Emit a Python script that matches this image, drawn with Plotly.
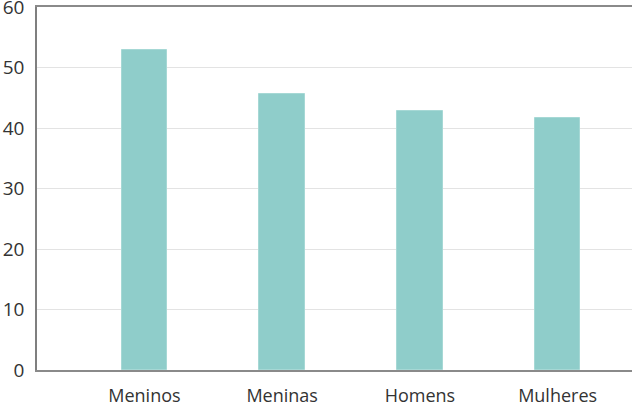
import plotly.graph_objects as go

categories = ["Meninos", "Meninas", "Homens", "Mulheres"]
values = [52.9, 45.7, 42.9, 41.7]
y_ticks = [0, 10, 20, 30, 40, 50, 60]

fig = go.Figure(go.Bar(
    x=list(range(len(categories))),
    y=values,
    width=0.33,
    marker=dict(color="#8fcdca", line=dict(color="#a6d8d5", width=1)),
    hoverinfo="skip",
))

fig.update_layout(
    width=632, height=405,
    margin=dict(l=37, r=0, t=7, b=35),
    paper_bgcolor="white", plot_bgcolor="white",
    font=dict(family="Open Sans", size=18, color="#333333"),
    showlegend=False,
    bargap=0,
)
fig.update_xaxes(
    tickmode="array", tickvals=list(range(len(categories))), ticktext=categories,
    range=[-0.78, 3.54], showgrid=False, zeroline=False, automargin=False,
    showline=True, linecolor="#8a8a8a", linewidth=1.5, mirror=True,
    ticks="", ticklabelstandoff=9, ticklabeloverflow="allow",
)
fig.update_yaxes(
    range=[0, 60.02], tickvals=y_ticks, showgrid=True, gridcolor="#e3e3e3", gridwidth=1,
    zeroline=False, showline=True, linecolor="#7f7f7f", linewidth=1.5, automargin=False,
    ticks="", ticklabelstandoff=7, tickfont=dict(size=19), ticklabeloverflow="allow",
)

fig.write_html("out.html", config={"displayModeBar": False},
               post_script="document.body.style.margin='0';")
